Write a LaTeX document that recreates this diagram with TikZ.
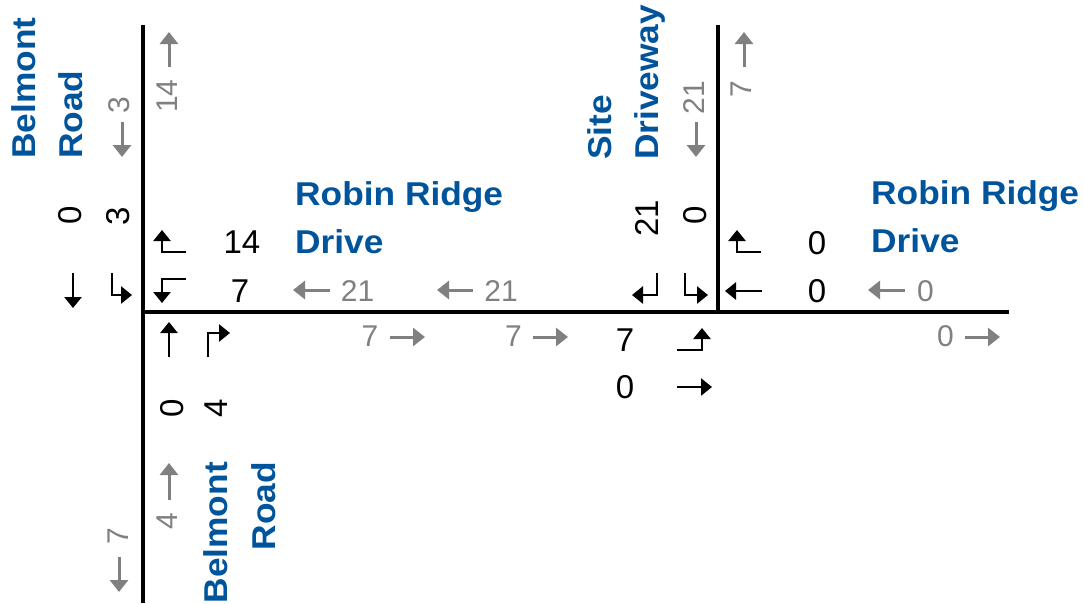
\documentclass[tikz,border=0pt]{standalone}
\usepackage{fontspec}
\setmainfont{Liberation Sans}
\newfontfamily\streetfont[FakeStretch=1.07]{Liberation Sans}
\usetikzlibrary{arrows.meta}
\definecolor{roadblue}{RGB}{0,84,155}
\definecolor{volgray}{RGB}{128,128,128}
\begin{document}
\begin{tikzpicture}[x=1pt,y=-1pt,
  road/.style={line width=4.5pt},
  street/.style={font=\streetfont\fontsize{33}{33}\selectfont\bfseries, text=roadblue, inner sep=0pt},
  vol/.style={font=\fontsize{33}{33}\selectfont, inner sep=0pt},
  flow/.style={font=\fontsize{30}{30}\selectfont, text=volgray, inner sep=0pt},
  turnarrow/.style={line width=2.8pt, -{Triangle[length=11pt,width=17pt]}},
  flowarrow/.style={volgray, line width=3pt, -{Triangle[length=12pt,width=18pt]}},
  up/.style={rotate=90}]
\useasboundingbox (0,0) rectangle (1084,603);
% roads
\coordinate (w1) at (143,25); \coordinate (w2) at (143,603);
\coordinate (h1) at (143,312); \coordinate (h2) at (1009,312);
\coordinate (d1) at (718,25); \coordinate (d2) at (718,312);
\draw[road] (w1) -- (w2);
\draw[road] (h1) -- (h2);
\draw[road] (d1) -- (d2);
% street names
\node[street, anchor=base west] (rr1) at (295,205) {Robin Ridge};
\node[street, anchor=base west] (rr1b) at (295,253) {Drive};
\node[street, anchor=base west] (rr2) at (871,204) {Robin Ridge};
\node[street, anchor=base west] (rr2b) at (871,252) {Drive};
\node[street, up, anchor=base west] (bn1) at (35,159) {Belmont};
\node[street, up, anchor=base west] (bn2) at (82,159) {Road};
\node[street, up, anchor=base west] (sd1) at (611,160) {Site};
\node[street, up, anchor=base west] (sd2) at (658,160) {Driveway};
\node[street, up, anchor=base east] (bs1) at (227,462) {Belmont};
\node[street, up, anchor=base east] (bs2) at (275,462) {Road};
% black volumes
\node[vol, up] (v1) at (70,215) {0};
\node[vol, up] (v2) at (118,216) {3};
\node[vol] (v3) at (242,242) {14};
\node[vol] (v4) at (240,291) {7};
\node[vol, up] (v5) at (172,408) {0};
\node[vol, up] (v6) at (216,408) {4};
\node[vol, up] (v7) at (647,218) {21};
\node[vol, up] (v8) at (695,215) {0};
\node[vol] (v9) at (817,243) {0};
\node[vol] (v10) at (817,291) {0};
\node[vol] (v11) at (625,340) {7};
\node[vol] (v12) at (625,387) {0};
% black straight arrows
\coordinate (a1s) at (73,273); \coordinate (a1e) at (73,308);
\draw[turnarrow] (a1s) -- (a1e);
\coordinate (a2s) at (169,357); \coordinate (a2e) at (169,322);
\draw[turnarrow] (a2s) -- (a2e);
\coordinate (a3s) at (762,291); \coordinate (a3e) at (725,291);
\draw[turnarrow] (a3s) -- (a3e);
\coordinate (a4s) at (677,387); \coordinate (a4e) at (712,387);
\draw[turnarrow] (a4s) -- (a4e);
% turn arrows
\coordinate (t1a) at (112,273); \coordinate (t1b) at (112,295); \coordinate (t1c) at (132,295);
\draw[turnarrow] (t1a) -- (t1b) -- (t1c);
\coordinate (t2a) at (186,252); \coordinate (t2b) at (162,252); \coordinate (t2c) at (162,230);
\draw[turnarrow] (t2a) -- (t2b) -- (t2c);
\coordinate (t3a) at (186,279); \coordinate (t3b) at (162,279); \coordinate (t3c) at (162,303);
\draw[turnarrow] (t3a) -- (t3b) -- (t3c);
\coordinate (t4a) at (208,357); \coordinate (t4b) at (208,333); \coordinate (t4c) at (230,333);
\draw[turnarrow] (t4a) -- (t4b) -- (t4c);
\coordinate (t5a) at (657,273); \coordinate (t5b) at (657,295); \coordinate (t5c) at (632,295);
\draw[turnarrow] (t5a) -- (t5b) -- (t5c);
\coordinate (t6a) at (685,273); \coordinate (t6b) at (685,295); \coordinate (t6c) at (708,295);
\draw[turnarrow] (t6a) -- (t6b) -- (t6c);
\coordinate (t7a) at (677,350); \coordinate (t7b) at (702,350); \coordinate (t7c) at (702,328);
\draw[turnarrow] (t7a) -- (t7b) -- (t7c);
\coordinate (t8a) at (761,252); \coordinate (t8b) at (737,252); \coordinate (t8c) at (737,230);
\draw[turnarrow] (t8a) -- (t8b) -- (t8c);
% gray flows: numbers
\node[flow] (f1) at (357.5,291) {21};
\node[flow] (f2) at (501,291) {21};
\node[flow] (f3) at (925.5,291) {0};
\node[flow] (f4) at (370,336) {7};
\node[flow] (f5) at (513.5,336) {7};
\node[flow] (f6) at (945.5,336) {0};
\node[flow, up] (f7) at (167,96) {14};
\node[flow, up] (f8) at (119,105.5) {3};
\node[flow, up] (f9) at (694,97.5) {21};
\node[flow, up] (f10) at (741.5,89) {7};
\node[flow, up] (f11) at (167,521) {4};
\node[flow, up] (f12) at (118,536) {7};
% gray flows: arrows
\coordinate (g1s) at (330,290); \coordinate (g1e) at (293,290);
\draw[flowarrow] (g1s) -- (g1e);
\coordinate (g2s) at (473,290); \coordinate (g2e) at (437,290);
\draw[flowarrow] (g2s) -- (g2e);
\coordinate (g3s) at (905,290); \coordinate (g3e) at (868,290);
\draw[flowarrow] (g3s) -- (g3e);
\coordinate (g4s) at (390,337); \coordinate (g4e) at (425,337);
\draw[flowarrow] (g4s) -- (g4e);
\coordinate (g5s) at (533,337); \coordinate (g5e) at (568,337);
\draw[flowarrow] (g5s) -- (g5e);
\coordinate (g6s) at (965,337); \coordinate (g6e) at (1000,337);
\draw[flowarrow] (g6s) -- (g6e);
\coordinate (g7s) at (169,67); \coordinate (g7e) at (169,32);
\draw[flowarrow] (g7s) -- (g7e);
\coordinate (g8s) at (122,122); \coordinate (g8e) at (122,157);
\draw[flowarrow] (g8s) -- (g8e);
\coordinate (g9s) at (696,122); \coordinate (g9e) at (696,157);
\draw[flowarrow] (g9s) -- (g9e);
\coordinate (g10s) at (744,67); \coordinate (g10e) at (744,32);
\draw[flowarrow] (g10s) -- (g10e);
\coordinate (g11s) at (169,500); \coordinate (g11e) at (169,463);
\draw[flowarrow] (g11s) -- (g11e);
\coordinate (g12s) at (119,557); \coordinate (g12e) at (119,592);
\draw[flowarrow] (g12s) -- (g12e);
\end{tikzpicture}
\end{document}
